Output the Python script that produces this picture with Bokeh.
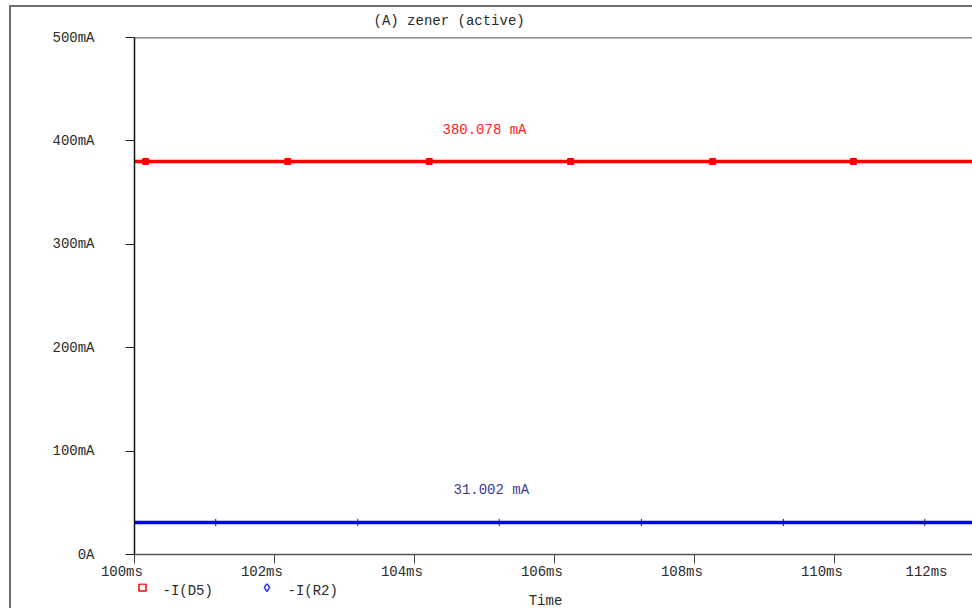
import math
from bokeh.plotting import figure
from bokeh.layouts import column, row
from bokeh.models import (Range1d, FixedTicker, Label, LinearAxis, Span, Div, Spacer,
                          CustomLabelingPolicy)
from bokeh.core.properties import value
from bokeh.embed import file_html
from bokeh.resources import INLINE

# ---------------- data ----------------
time_ms = [100.0, 112.6]
i_d5_mA = [380.078, 380.078]
i_r2_mA = [31.002, 31.002]
d5_marker_t = [100.16, 102.19, 104.21, 106.23, 108.26, 110.27]
r2_marker_t = [101.16, 103.19, 105.21, 107.24, 109.27, 111.29]
x_ticks = [100, 102, 104, 106, 108, 110]
x_tick_labels = ["100ms", "102ms", "104ms", "106ms", "108ms", "110ms"]
last_tick_label = "112ms"
y_ticks = [0, 100, 200, 300, 400, 500]
y_tick_labels = ["0A", "100mA", "200mA", "300mA", "400mA", "500mA"]
title_text = "(A) zener (active)"
d5_value_text = "380.078 mA"
r2_value_text = "31.002 mA"
series_names = ["-I(D5)", "-I(R2)"]
series_colors = ["#ff0000", "#0000ff"]
legend_marker_colors = ["#ff0000", "#3a3aff"]
x_axis_title = "Time"

# ---------------- layout (page pixels) ----------------
PAGE_W, PAGE_H = 972, 608
EDGE_X, EDGE_Y, EDGE_T = 9, 5, 2        # grey window edge: left x, top y, thickness
CONTENT_X = EDGE_X + EDGE_T             # 11
CONTENT_Y = EDGE_Y + EDGE_T             # 7
TITLE_H = 22
BOT_H = 25
MAIN_TOP = CONTENT_Y + TITLE_H          # 29
MAIN_W = PAGE_W - CONTENT_X
MAIN_H = PAGE_H - MAIN_TOP - BOT_H
FRAME_L, FRAME_T, FRAME_B = 134, 37, 554      # plot frame in page px
PX_PER_MS = 70.0
X0 = 100.0
X1 = X0 + (PAGE_W - FRAME_L) / PX_PER_MS
Y0, Y1 = 0.0, 500.0
MA_PER_PX = (Y1 - Y0) / (FRAME_B - FRAME_T)
PAD = "\u00a0\u00a0\u00a0"   # PSpice prints tick labels a little left of their ticks

def px_x(px):
    return X0 + (px - FRAME_L) / PX_PER_MS

def px_y(py):
    return Y0 + (FRAME_B - py) * MA_PER_PX

FONT = "Liberation Mono"
FS = "14px"
TXT = "#2a2a2a"
EDGE = "#6e6e6e"

def strip(h, y_top):
    f = figure(width=MAIN_W, height=h, x_range=Range1d(FRAME_L, PAGE_W),
               y_range=Range1d(y_top + h, y_top), output_backend="svg", title=None,
               toolbar_location=None, x_axis_location=None, y_axis_location=None,
               min_border=0, min_border_left=FRAME_L - CONTENT_X, min_border_right=0,
               min_border_top=0, min_border_bottom=0)
    f.outline_line_color = None
    f.grid.visible = False
    return f

# ---------------- title strip ----------------
top = strip(TITLE_H, CONTENT_Y)
top.text([373], [20], text=[title_text], text_align="left", text_baseline="middle",
         text_font=value(FONT), text_font_size=FS, text_color=TXT)

# ---------------- main plot ----------------
p = figure(width=MAIN_W, height=MAIN_H, x_range=Range1d(X0, X1), y_range=Range1d(Y0, Y1),
           output_backend="svg", toolbar_location=None, title=None,
           min_border_left=FRAME_L - CONTENT_X, min_border_right=0,
           min_border_top=FRAME_T - MAIN_TOP,
           min_border_bottom=MAIN_H - (FRAME_B - MAIN_TOP))
p.outline_line_color = None
p.grid.visible = False

ya = p.yaxis[0]
ya.ticker = FixedTicker(ticks=y_ticks)
ya.major_label_overrides = {t: l for t, l in zip(y_ticks, y_tick_labels)}
ya.minor_tick_line_color = None
ya.major_tick_in = 0
ya.major_tick_out = 9
ya.major_tick_line_color = "#222222"
ya.axis_line_color = "#111111"
ya.axis_line_width = 1.5
ya.major_label_standoff = 31
ya.major_label_text_font = FONT
ya.major_label_text_font_size = FS
ya.major_label_text_color = TXT

# tick marks (their labels are drawn by the axis below)
xa = p.xaxis[0]
xa.ticker = FixedTicker(ticks=x_ticks)
xa.minor_tick_line_color = None
xa.major_tick_in = 0
xa.major_tick_out = 9
xa.major_tick_line_color = "#444444"
xa.axis_line_color = "#555555"
xa.axis_line_width = 1.5
xa.major_label_standoff = 0
xa.major_label_text_font_size = "0px"
xa.major_label_policy = CustomLabelingPolicy(
    code="for (const i of [...indices]) { indices.unset(i) }\nreturn indices")

# tick labels
last_label_pos = px_x(926)
lab_ticks = x_ticks + [last_label_pos]
lab_axis = LinearAxis(ticker=FixedTicker(ticks=lab_ticks),
                      major_label_overrides={**{t: l + PAD for t, l in zip(x_ticks, x_tick_labels)},
                                             last_label_pos: last_tick_label},
                      axis_line_color=None, major_tick_line_color=None,
                      minor_tick_line_color=None, major_tick_in=0, major_tick_out=0,
                      major_label_standoff=0, major_label_text_font=FONT,
                      major_label_text_font_size=FS, major_label_text_color=TXT,
                      major_label_text_line_height=1.0)
p.add_layout(lab_axis, "below")

p.add_layout(Span(location=Y1, dimension="width", line_color="#111111", line_width=1.5))

p.line(time_ms, i_d5_mA, line_color=series_colors[0], line_width=3.5)
p.line(time_ms, i_r2_mA, line_color=series_colors[1], line_width=3.5)
p.scatter(d5_marker_t, [i_d5_mA[0]] * len(d5_marker_t), marker="square", size=6,
          fill_color=series_colors[0], line_color=series_colors[0])
p.scatter(r2_marker_t, [i_r2_mA[0]] * len(r2_marker_t), marker="dash", angle=math.pi / 2,
          size=7, line_color="#101080", line_width=1)

p.add_layout(Label(x=px_x(442), y=px_y(129), text=d5_value_text, text_align="left",
                   text_baseline="middle", text_font=FONT, text_font_size=FS,
                   text_color="#ff2020"))
p.add_layout(Label(x=px_x(453), y=px_y(489), text=r2_value_text, text_align="left",
                   text_baseline="middle", text_font=FONT, text_font_size=FS,
                   text_color="#3a3aa0"))

# ---------------- legend + axis title strip ----------------
bot = strip(BOT_H, PAGE_H - BOT_H)
leg_marker_x = [142, 266.5]
leg_text_x = [162, 287]
leg_y = 587
bot.scatter([leg_marker_x[0]], [leg_y], marker="square", size=7, fill_color=None,
            line_color=legend_marker_colors[0], line_width=1.5)
bot.scatter([leg_marker_x[1]], [leg_y], marker="diamond", size=8, fill_color=None,
            line_color=legend_marker_colors[1], line_width=1.5)
bot.text(leg_text_x, [leg_y + 3] * 2, text=series_names, text_align="left",
         text_baseline="middle", text_font=value(FONT), text_font_size=FS,
         text_color=TXT)
bot.text([545], [600], text=[x_axis_title], text_align="center",
         text_baseline="middle", text_font=value(FONT), text_font_size=FS,
         text_color=TXT)

# ---------------- grey window edge ----------------
top_edge = row(Spacer(width=EDGE_X, height=EDGE_T, margin=0),
               Div(text="", width=PAGE_W - EDGE_X, height=EDGE_T, margin=0,
                   styles={"background-color": EDGE}))
body_h = PAGE_H - CONTENT_Y
left_edge = Div(text="", width=EDGE_T, height=body_h, margin=0,
                styles={"background-color": EDGE})

layout = column(Spacer(width=PAGE_W, height=EDGE_Y, margin=0),
                top_edge,
                row(Spacer(width=EDGE_X, height=body_h, margin=0),
                    left_edge,
                    column(top, p, bot)))
open("out.html", "w").write(file_html(layout, INLINE))
